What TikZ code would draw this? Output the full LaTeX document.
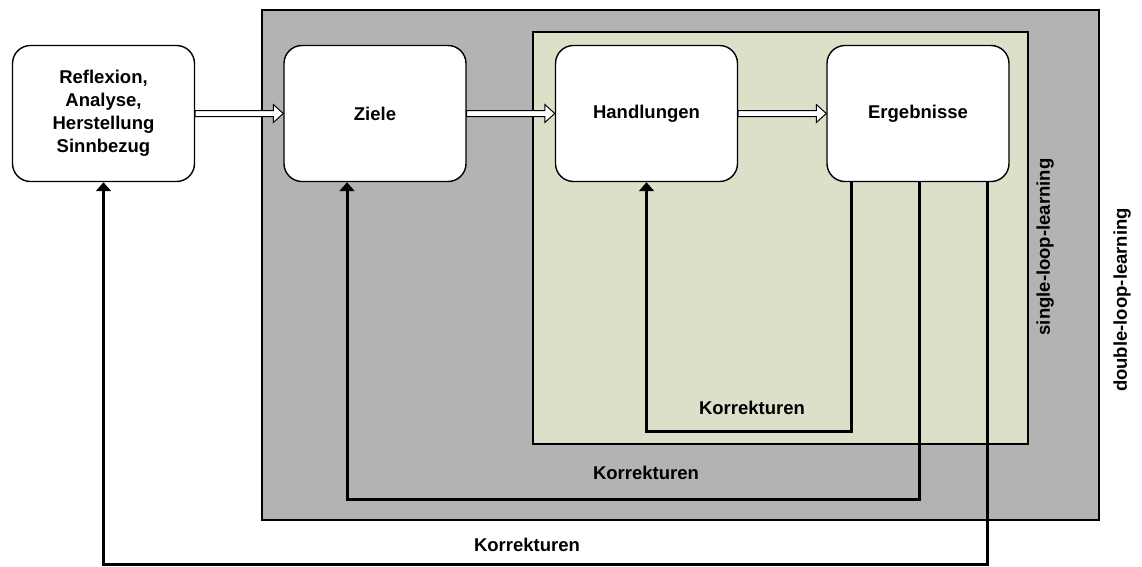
\documentclass[tikz,border=0pt]{standalone}
\usepackage{fontspec}
\setmainfont{Liberation Sans}
\usetikzlibrary{arrows.meta,calc}
\definecolor{loopgray}{RGB}{179,179,179}
\definecolor{loopgreen}{RGB}{221,224,201}
\begin{document}
\begin{tikzpicture}[x=1pt,y=-1pt,
  every node/.style={font=\fontsize{18.5}{23}\selectfont\bfseries},
  area/.style={draw=black,line width=1.4pt},
  stage/.style={draw=black,line width=1.4pt,fill=white,rounded corners=18pt,
    minimum width=182pt,minimum height=136pt,align=center,inner sep=0pt},
  hollow/.style={draw=black,line width=1pt,fill=white,
    to path={let \p1=(\tikztostart), \p2=(\tikztotarget) in
      (\x1,\y1+3) -- (\x2-10,\y1+3) -- (\x2-10,\y1+9) -- (\x2,\y1)
      -- (\x2-10,\y1-9) -- (\x2-10,\y1-3) -- (\x1,\y1-3) -- cycle}},
  feedback/.style={draw=black,line width=3pt,
    -{Triangle[length=9pt,width=15pt]}},
  lbl/.style={inner sep=0pt}]
\useasboundingbox (0,0) rectangle (1142,566);

% nested learning areas
\draw[area,fill=loopgray] (262,10) rectangle (1099,520);
\draw[area,fill=loopgreen] (533,32) rectangle (1028,444);

% stages
\node[stage] (refl) at (103.5,113.5) {Reflexion,\\Analyse,\\Herstellung\\Sinnbezug};
\node[stage] (ziele) at (375,113.5) {Ziele};
\node[stage] (hand) at (646.5,113.5) {Handlungen};
\node[stage] (erg) at (918,113.5) {Ergebnisse};

% forward flow
\draw[hollow] (refl.east) to (ziele.west);
\draw[hollow] (ziele.east) to (hand.west);
\draw[hollow] (hand.east) to (erg.west);

% correction loops
\draw[feedback] ([xshift=-67pt]erg.south) -- ++(0,249) -| (hand.south);
\draw[feedback] ([xshift=1pt]erg.south) -- ++(0,317) -| ([xshift=-28pt]ziele.south);
\draw[feedback] ([xshift=69pt]erg.south) -- ++(0,382) -| (refl.south);

% labels
\node[lbl] (k1) at (752,408) {Korrekturen};
\node[lbl] (k2) at (646,473) {Korrekturen};
\node[lbl] (k3) at (527,545) {Korrekturen};
\node[lbl,rotate=90] (single) at (1045,247) {single-loop-learning};
\node[lbl,rotate=90] (double) at (1122,300) {double-loop-learning};
\end{tikzpicture}
\end{document}
